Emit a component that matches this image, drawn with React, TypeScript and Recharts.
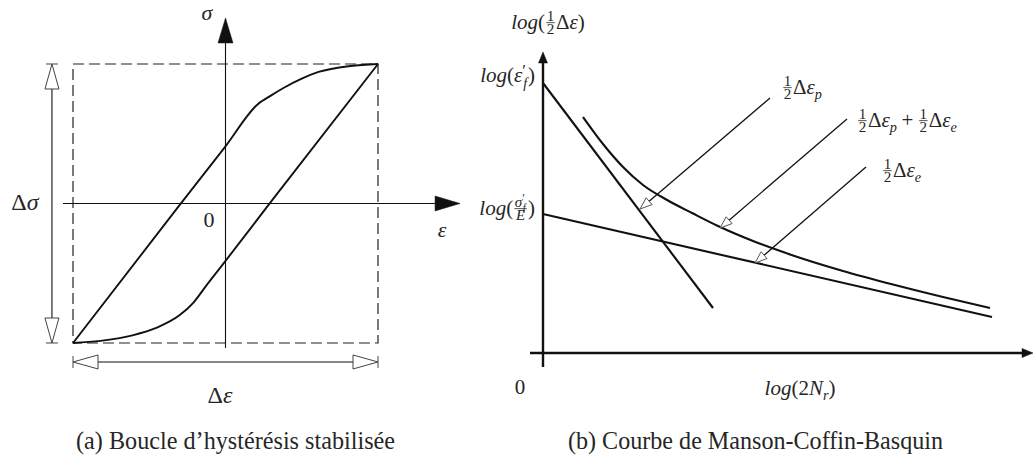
import React from 'react';
import {
    LineChart,
    Line,
    XAxis,
    YAxis,
    ReferenceLine,
    ReferenceArea,
    ReferenceDot,
} from 'recharts';

// (a) stabilised loop, strain / stress scaled so the dashed box is [-1, 1]
const loadEps = [-1, -0.3, 0, 0.21, 0.3, 0.38, 0.5, 0.61, 0.82, 1];
const loadSigma = [-1, -0.01, 0.41, 0.71, 0.775, 0.828, 0.895, 0.943, 0.986, 1];
const unloadEps = [-1, -0.82, -0.61, -0.45, -0.3, -0.21, -0.12, -0.02, 0.31, 1];
const unloadSigma = [-1, -0.985, -0.945, -0.89, -0.8, -0.71, -0.58, -0.44, 0.03, 1];

// (b) Manson-Coffin-Basquin, arbitrary log units
const plasticN = [0, 3.4];
const plasticE = [5.4, 0.9];
const elasticN = [0, 8.98];
const elasticE = [2.78, 0.72];
const totalN = [0.8, 1.2, 1.6, 2.0, 2.5, 3.0, 3.5, 4.2, 5.0, 6.0, 7.0, 8.0, 8.94];
const totalE = [4.72, 4.18, 3.72, 3.36, 3.05, 2.79, 2.54, 2.24, 1.95, 1.64, 1.37, 1.12, 0.9];

const toPoints = (xs: number[], ys: number[]) => xs.map((x, i) => ({ x, y: ys[i] }));

const FONT = '"Liberation Serif", "Times New Roman", serif';
const INK = '#111';
const TEXT = '#262626';

let ctx: CanvasRenderingContext2D | null = null;
function tw(s: string, size: number, italic?: boolean) {
    if (!ctx) ctx = document.createElement('canvas').getContext('2d');
    if (!ctx) return s.length * size * 0.5;
    ctx.font = `${italic ? 'italic ' : ''}${size}px ${FONT}`;
    return ctx.measureText(s).width;
}

type Piece =
    | { t: string; it?: boolean; sc?: number; dy?: number; zw?: boolean; pad?: number }
    | { num: Piece[]; den: Piece[] };

const FR = 0.72;
function pw(p: Piece, size: number): number {
    if ('num' in p) return Math.max(rw(p.num, size * FR), rw(p.den, size * FR)) + size * 0.16;
    if (p.zw) return 0;
    return tw(p.t, size * (p.sc ?? 1), p.it) + 2 * (p.pad ?? 0) * size;
}
function rw(ps: Piece[], size: number): number {
    return ps.reduce((a, p) => a + pw(p, size), 0);
}

function run(ps: Piece[], size: number, x: number, base: number, key: string): React.ReactNode[] {
    const out: React.ReactNode[] = [];
    let cx = x;
    ps.forEach((p, i) => {
        const k = `${key}-${i}`;
        const w = pw(p, size);
        if ('num' in p) {
            const fs = size * FR;
            const bar = base - size * 0.3;
            out.push(...run(p.num, fs, cx + (w - rw(p.num, fs)) / 2, bar - size * 0.08, k + 'n'));
            out.push(...run(p.den, fs, cx + (w - rw(p.den, fs)) / 2, bar + fs * 0.74, k + 'd'));
            out.push(
                <line key={k + 'b'} x1={cx + size * 0.06} x2={cx + w - size * 0.06} y1={bar} y2={bar} stroke={TEXT} strokeWidth={0.8} />
            );
        } else {
            out.push(
                <text
                    key={k}
                    x={cx + (p.pad ?? 0) * size}
                    y={base + (p.dy ?? 0) * size}
                    fontSize={size * (p.sc ?? 1)}
                    fontStyle={p.it ? 'italic' : 'normal'}
                    fontFamily={FONT}
                    fill={TEXT}
                >
                    {p.t}
                </text>
            );
        }
        cx += w;
    });
    return out;
}

function mathLabel(ps: Piece[], size: number, anchor: 'start' | 'middle' | 'end' = 'middle') {
    return (props: any) => {
        const { cx, cy } = props;
        const w = rw(ps, size);
        const x0 = anchor === 'start' ? cx : anchor === 'end' ? cx - w : cx - w / 2;
        return <g>{run(ps, size, x0, cy + size * 0.33, 'm')}</g>;
    };
}

function caption(text: string, size: number, length: number) {
    return (props: any) => (
        <text
            x={props.cx}
            y={props.cy + size * 0.33}
            textAnchor="middle"
            fontFamily={FONT}
            fontSize={size}
            fill={TEXT}
            textLength={length}
            lengthAdjust="spacingAndGlyphs"
        >
            {text}
        </text>
    );
}

type ArrowOpt = {
    w: number;
    color: string;
    len: number;
    half: number;
    open?: boolean;
    both?: boolean;
    tick?: number;
    headColor?: string;
};

function arrow(o: ArrowOpt) {
    return (props: any) => {
        const x1 = Number(props.x1), y1 = Number(props.y1), x2 = Number(props.x2), y2 = Number(props.y2);
        const dx = x2 - x1, dy = y2 - y1;
        const L = Math.hypot(dx, dy) || 1;
        const ux = dx / L, uy = dy / L;
        const nx = -uy, ny = ux;
        const head = (tx: number, ty: number, sx: number, sy: number) => {
            const bx = tx - sx * o.len, by = ty - sy * o.len;
            return `${tx},${ty} ${bx + nx * o.half},${by + ny * o.half} ${bx - nx * o.half},${by - ny * o.half}`;
        };
        const hc = o.headColor ?? o.color;
        const lx1 = o.both && o.open ? x1 + ux * o.len : x1;
        const ly1 = o.both && o.open ? y1 + uy * o.len : y1;
        const lx2 = o.open ? x2 - ux * o.len : x2 - ux * o.len * 0.5;
        const ly2 = o.open ? y2 - uy * o.len : y2 - uy * o.len * 0.5;
        return (
            <g>
                <line x1={lx1} y1={ly1} x2={lx2} y2={ly2} stroke={o.color} strokeWidth={o.w} />
                <polygon
                    points={head(x2, y2, ux, uy)}
                    fill={o.open ? '#fff' : hc}
                    stroke={hc}
                    strokeWidth={o.open ? 1 : 0.5}
                />
                {o.both && (
                    <polygon
                        points={head(x1, y1, -ux, -uy)}
                        fill={o.open ? '#fff' : hc}
                        stroke={hc}
                        strokeWidth={o.open ? 1 : 0.5}
                    />
                )}
                {o.tick && (
                    <>
                        <line x1={x1 - nx * o.tick} y1={y1 - ny * o.tick} x2={x1 + nx * o.tick} y2={y1 + ny * o.tick} stroke={hc} strokeWidth={1} />
                        <line x1={x2 - nx * o.tick} y1={y2 - ny * o.tick} x2={x2 + nx * o.tick} y2={y2 + ny * o.tick} stroke={hc} strokeWidth={1} />
                    </>
                )}
            </g>
        );
    };
}

const half: Piece = { num: [{ t: '1' }], den: [{ t: '2' }] };
const sub = (s: string): Piece => ({ t: s, it: true, sc: 0.68, dy: 0.24 });
const dEps = (s: string): Piece[] => [half, { t: 'Δ' }, { t: 'ε', it: true }, sub(s)];

const yLabel: Piece[] = [{ t: 'log', it: true }, { t: '(' }, half, { t: 'Δ' }, { t: 'ε', it: true }, { t: ')' }];
const epsF: Piece[] = [
    { t: 'log', it: true },
    { t: '(' },
    { t: 'ε', it: true },
    { t: '′', sc: 0.8, dy: -0.3, zw: true },
    { t: 'f', it: true, sc: 0.68, dy: 0.3, pad: 0.04 },
    { t: ')' },
];
const sigF: Piece[] = [
    { t: 'log', it: true },
    { t: '(' },
    {
        num: [
            { t: 'σ', it: true },
            { t: '′', sc: 0.8, dy: -0.3, zw: true },
            { t: 'f', it: true, sc: 0.68, dy: 0.3, pad: 0.04 },
        ],
        den: [{ t: 'E', it: true }],
    },
    { t: ')' },
];
const xLabel: Piece[] = [{ t: 'log', it: true }, { t: '(' }, { t: '2' }, { t: 'N', it: true }, sub('r'), { t: ')' }];
const plus: Piece = { t: '+', pad: 0.22 };

const leader = arrow({ w: 1.3, color: INK, len: 12, half: 4.5, open: true, headColor: '#555' });
const axisB = arrow({ w: 2.4, color: INK, len: 11, half: 4.5 });
const axisA = arrow({ w: 1.1, color: INK, len: 25, half: 7.5 });
const dimA = arrow({ w: 1.1, color: INK, len: 25, half: 7, open: true, both: true, tick: 6, headColor: '#444' });

function HysteresisLoop() {
    return (
        <LineChart width={465} height={468} margin={{ top: 0, right: 0, bottom: 0, left: 0 }}>
            <XAxis type="number" dataKey="x" domain={[-1.47869, 1.57049]} hide allowDataOverflow />
            <YAxis type="number" domain={[-1.89606, 1.45878]} hide allowDataOverflow />
            <ReferenceArea
                x1={-1}
                x2={1}
                y1={-1}
                y2={1}
                fill="none"
                fillOpacity={0}
                stroke="#222"
                strokeWidth={1.2}
                strokeDasharray="11 5"
                ifOverflow="visible"
            />
            <ReferenceLine segment={[{ x: 0, y: -1.036 }, { x: 0, y: 1.33 }]} shape={axisA} ifOverflow="visible" />
            <ReferenceLine segment={[{ x: -1.066, y: 0 }, { x: 1.538, y: 0 }]} shape={axisA} ifOverflow="visible" />
            <ReferenceLine segment={[{ x: -1.138, y: -1 }, { x: -1.138, y: 1 }]} shape={dimA} ifOverflow="visible" />
            <ReferenceLine segment={[{ x: -1, y: -1.136 }, { x: 1, y: -1.136 }]} shape={dimA} ifOverflow="visible" />
            <Line data={toPoints(loadEps, loadSigma)} dataKey="y" type="monotone" stroke={INK} strokeWidth={1.9} dot={false} activeDot={false} isAnimationActive={false} />
            <Line data={toPoints(unloadEps, unloadSigma)} dataKey="y" type="monotone" stroke={INK} strokeWidth={1.9} dot={false} activeDot={false} isAnimationActive={false} />
            <ReferenceDot x={-0.121} y={1.366} ifOverflow="visible" shape={mathLabel([{ t: 'σ', it: true }], 22)} />
            <ReferenceDot x={1.42} y={-0.19} ifOverflow="visible" shape={mathLabel([{ t: 'ε', it: true }], 22)} />
            <ReferenceDot x={-0.108} y={-0.118} ifOverflow="visible" shape={mathLabel([{ t: '0' }], 22)} />
            <ReferenceDot x={-1.315} y={0.01} ifOverflow="visible" shape={mathLabel([{ t: 'Δ' }, { t: 'σ', it: true }], 24)} />
            <ReferenceDot x={-0.036} y={-1.373} ifOverflow="visible" shape={mathLabel([{ t: 'Δ' }, { t: 'ε', it: true }], 24)} />
            <ReferenceDot x={0.066} y={-1.695} ifOverflow="visible" shape={caption('(a) Boucle d’hystérésis stabilisée', 26, 319)} />
        </LineChart>
    );
}

function MansonCoffin() {
    return (
        <LineChart width={568} height={468} margin={{ top: 0, right: 0, bottom: 0, left: 0 }}>
            <XAxis type="number" dataKey="x" domain={[-1.56, 9.8]} hide allowDataOverflow />
            <YAxis type="number" domain={[-2.3, 7.06]} hide allowDataOverflow />
            <ReferenceLine segment={[{ x: 0, y: -0.28 }, { x: 0, y: 6.02 }]} shape={axisB} ifOverflow="visible" />
            <ReferenceLine segment={[{ x: -0.26, y: 0 }, { x: 9.8, y: 0 }]} shape={axisB} ifOverflow="visible" />
            <Line data={toPoints(plasticN, plasticE)} dataKey="y" type="linear" stroke={INK} strokeWidth={2.1} dot={false} activeDot={false} isAnimationActive={false} />
            <Line data={toPoints(elasticN, elasticE)} dataKey="y" type="linear" stroke={INK} strokeWidth={2.1} dot={false} activeDot={false} isAnimationActive={false} />
            <Line data={toPoints(totalN, totalE)} dataKey="y" type="monotone" stroke={INK} strokeWidth={2.1} dot={false} activeDot={false} isAnimationActive={false} />
            <ReferenceLine segment={[{ x: 4.54, y: 5.1 }, { x: 1.94, y: 2.88 }]} shape={leader} ifOverflow="visible" />
            <ReferenceLine segment={[{ x: 6.08, y: 4.68 }, { x: 3.54, y: 2.5 }]} shape={leader} ifOverflow="visible" />
            <ReferenceLine segment={[{ x: 6.46, y: 3.72 }, { x: 4.24, y: 1.8 }]} shape={leader} ifOverflow="visible" />
            <ReferenceDot x={0.1} y={6.62} ifOverflow="visible" shape={mathLabel(yLabel, 21)} />
            <ReferenceDot x={-0.16} y={5.56} ifOverflow="visible" shape={mathLabel(epsF, 21, 'end')} />
            <ReferenceDot x={-0.16} y={2.9} ifOverflow="visible" shape={mathLabel(sigF, 21, 'end')} />
            <ReferenceDot x={-0.46} y={-0.68} ifOverflow="visible" shape={mathLabel([{ t: '0' }], 21)} />
            <ReferenceDot x={5.14} y={-0.7} ifOverflow="visible" shape={mathLabel(xLabel, 21)} />
            <ReferenceDot x={4.78} y={5.32} ifOverflow="visible" shape={mathLabel(dEps('p'), 21, 'start')} />
            <ReferenceDot x={6.28} y={4.66} ifOverflow="visible" shape={mathLabel([...dEps('p'), plus, ...dEps('e')], 21, 'start')} />
            <ReferenceDot x={6.78} y={3.66} ifOverflow="visible" shape={mathLabel(dEps('e'), 21, 'start')} />
            <ReferenceDot x={4.25} y={-1.74} ifOverflow="visible" shape={caption('(b) Courbe de Manson-Coffin-Basquin', 26, 375)} />
        </LineChart>
    );
}

export default function App() {
    return (
        <div style={{ position: 'absolute', left: 0, top: 0, width: 1033, height: 468, background: '#fff', overflow: 'hidden' }}>
            <div style={{ position: 'absolute', left: 0, top: 0 }}>
                <HysteresisLoop />
            </div>
            <div style={{ position: 'absolute', left: 465, top: 0 }}>
                <MansonCoffin />
            </div>
        </div>
    );
}
